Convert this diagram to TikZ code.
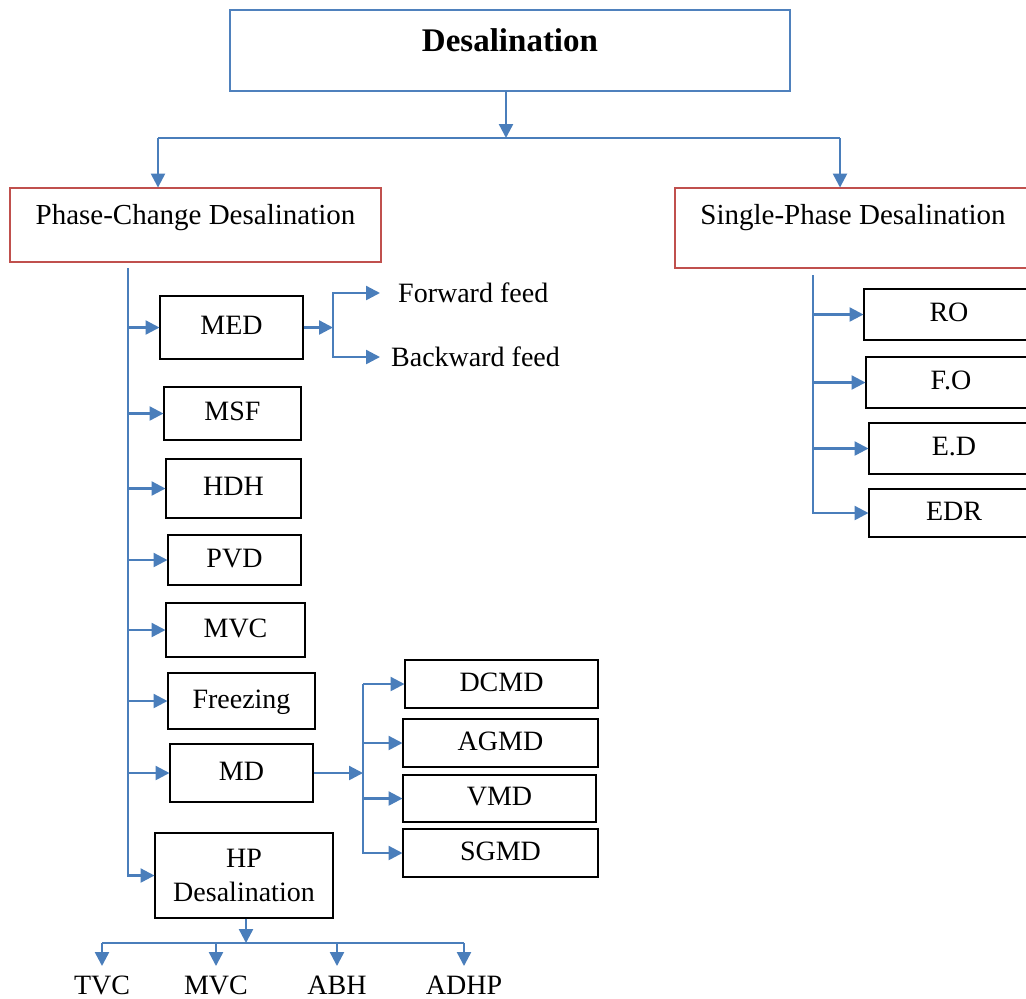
\documentclass[tikz,border=0pt]{standalone}
\usepackage{fontspec}
\setmainfont{Liberation Serif}
\usetikzlibrary{arrows.meta}
\definecolor{flow}{HTML}{4A7EBB}
\definecolor{headred}{HTML}{C0504D}
\definecolor{headblue}{HTML}{4F81BD}

\begin{document}
\begin{tikzpicture}[x=1pt,y=-1pt,scale=0.5,every node/.style={transform shape},
  txt/.style={font=\fontsize{28}{34}\selectfont},
  frame/.style={txt,draw=black,line width=1pt,inner sep=0pt},
  blk/.style={frame,text height=20pt,text depth=6pt},
  head/.style={txt,draw=headred,line width=0.9pt,inner sep=0pt,font=\fontsize{29}{34}\selectfont},
  lbl/.style={txt,anchor=north,inner xsep=0pt,inner ysep=10pt},
  link/.style={draw=flow,line width=1.2pt},
  arr/.style={link,-{Triangle[length=7pt,width=7pt]}}]
  \useasboundingbox (0,0) rectangle (1026,998);
  \clip (0,0) rectangle (1026,998);

  % Top level
  \node[txt,draw=headblue,line width=0.9pt,inner sep=0pt,minimum width=560pt,
        text height=41pt,text depth=40pt,font=\fontsize{33}{38}\selectfont\bfseries] (desal) at (510,50.5) {Desalination};
  \node[head,minimum width=371pt,text height=36pt,text depth=38pt] (pc) at (195.5,225) {Phase-Change Desalination};
  \node[head,minimum width=356pt,text height=36pt,text depth=44pt] (sp) at (853,228) {Single-Phase Desalination};

  \coordinate (topbar) at (506,138);
  \coordinate (brL) at (158,138);
  \coordinate (brR) at (840,138);
  \draw[arr] (desal.south -| topbar) -- (topbar);
  \draw[link] (brL) -- (brR);
  \draw[arr] (brL) -- (brL |- pc.north);
  \draw[arr] (brR) -- (brR |- sp.north);

  % Phase-change processes
  \node[blk,minimum width=143pt,minimum height=63pt] (med) at (231.5,327.5) {MED};
  \node[blk,minimum width=137pt,minimum height=53pt] (msf) at (232.5,413.5) {MSF};
  \node[blk,minimum width=135pt,minimum height=59pt] (hdh) at (233.5,488.5) {HDH};
  \node[blk,minimum width=133pt,minimum height=50pt] (pvd) at (234.5,560) {PVD};
  \node[blk,minimum width=139pt,minimum height=54pt] (mvc) at (235.5,630) {MVC};
  \node[blk,minimum width=147pt,minimum height=56pt] (frz) at (241.5,701) {Freezing};
  \node[blk,minimum width=143pt,minimum height=58pt] (md) at (241.5,773) {MD};
  \node[frame,align=center,minimum width=178pt,minimum height=85pt] (hp) at (244,875.5) {HP\\Desalination};

  \coordinate (ltop) at (128,268);
  \draw[arr] (ltop) |- (hp.west);
  \foreach \n in {med,msf,hdh,pvd,mvc,frz,md}
    \draw[arr] (ltop |- \n.west) -- (\n.west);

  % MED feeds
  \node[txt,anchor=west,inner xsep=18pt,inner ysep=0pt] (ff) at (380,293) {Forward feed};
  \node[txt,anchor=west,inner xsep=11pt,inner ysep=0pt] (bf) at (380,357) {Backward feed};
  \coordinate (medsp) at (333,329);
  \draw[arr] (med.east) -- (med.east -| medsp);
  \draw[arr] (medsp) |- (ff.west);
  \draw[arr] (medsp) |- (bf.west);

  % MD types
  \node[blk,minimum width=193pt,minimum height=48pt] (dcmd) at (501.5,684) {DCMD};
  \node[blk,minimum width=195pt,minimum height=48pt] (agmd) at (500.5,743) {AGMD};
  \node[blk,minimum width=193pt,minimum height=47pt] (vmd) at (499.5,798.5) {VMD};
  \node[blk,minimum width=195pt,minimum height=48pt] (sgmd) at (500.5,853) {SGMD};
  \coordinate (mdsp) at (363,775);
  \draw[arr] (md.east) -- (md.east -| mdsp);
  \draw[arr] (mdsp |- dcmd.west) |- (sgmd.west);
  \foreach \n in {dcmd,agmd,vmd}
    \draw[arr] (mdsp |- \n.west) -- (\n.west);

  % HP types
  \node[lbl] (tvc) at (102,966) {TVC};
  \node[lbl] (hpmvc) at (216,966) {MVC};
  \node[lbl] (abh) at (337,966) {ABH};
  \node[lbl] (adhp) at (464,966) {ADHP};
  \coordinate (hpbar) at (246,943);
  \draw[arr] (hp.south -| hpbar) -- (hpbar);
  \draw[link] (tvc.north |- hpbar) -- (adhp.north |- hpbar);
  \foreach \n in {tvc,hpmvc,abh,adhp}
    \draw[arr] (\n.north |- hpbar) -- (\n.north);

  % Single-phase processes
  \node[blk,minimum width=170pt,minimum height=51pt] (ro) at (949,314.5) {RO};
  \node[blk,minimum width=170pt,minimum height=51pt] (fo) at (951,382.5) {F.O};
  \node[blk,minimum width=170pt,minimum height=51pt] (ed) at (954,448.5) {E.D};
  \node[blk,minimum width=170pt,minimum height=48pt] (edr) at (954,513) {EDR};
  \coordinate (rtop) at (813,275);
  \draw[arr] (rtop) |- (edr.west);
  \foreach \n in {ro,fo,ed}
    \draw[arr] (rtop |- \n.west) -- (\n.west);
\end{tikzpicture}
\end{document}
